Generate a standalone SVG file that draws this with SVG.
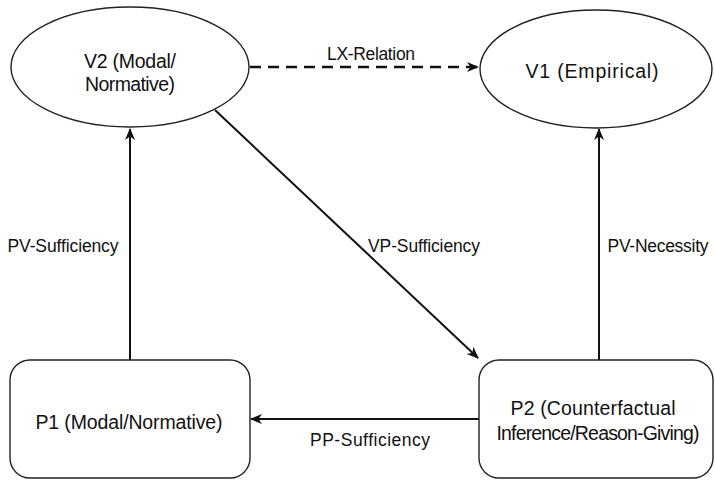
<svg xmlns="http://www.w3.org/2000/svg" width="715" height="482" viewBox="0 0 715 482">
<style>
.node{fill:#fff;stroke:#222;stroke-width:1.4}
.t{font-family:"Liberation Sans",Arial,sans-serif;fill:#111;text-anchor:middle}
.nt{font-size:19.5px}
.lt{font-size:17.5px}
.edge{stroke:#111;stroke-width:2;fill:none}
.dash{stroke-dasharray:11 7;stroke-width:2.5}
</style>
<defs>
<marker id="ah" viewBox="0 0 12 12" refX="11" refY="6" markerWidth="12" markerHeight="12" markerUnits="userSpaceOnUse" orient="auto">
<path d="M0,1 L12,6 L0,11 L3.5,6 z" fill="#111"/>
</marker>
</defs>
<rect width="715" height="482" fill="#fff"/>
<g id="connectors">
<line class="edge dash" x1="250" y1="67" x2="478" y2="67" marker-end="url(#ah)"/>
<line class="edge" x1="130" y1="360" x2="130" y2="129" marker-end="url(#ah)"/>
<line class="edge" x1="599" y1="360" x2="599" y2="129" marker-end="url(#ah)"/>
<line class="edge" x1="215" y1="110" x2="478" y2="358" marker-end="url(#ah)"/>
<line class="edge" x1="479" y1="419" x2="251" y2="419" marker-end="url(#ah)"/>
<text class="t lt" x="371" y="60" textLength="88" lengthAdjust="spacing">LX-Relation</text>
<text class="t lt" x="63" y="252" textLength="111" lengthAdjust="spacing">PV-Sufficiency</text>
<text class="t lt" x="424" y="252" textLength="112" lengthAdjust="spacing">VP-Sufficiency</text>
<text class="t lt" x="658" y="252" textLength="101" lengthAdjust="spacing">PV-Necessity</text>
<text class="t lt" x="370" y="446" textLength="120" lengthAdjust="spacing">PP-Sufficiency</text>
</g>
<g id="V2">
<ellipse class="node" cx="130" cy="67" rx="119" ry="60"/>
<text class="t nt" x="130" y="68" textLength="92" lengthAdjust="spacing">V2 (Modal/</text>
<text class="t nt" x="130" y="91" textLength="90" lengthAdjust="spacing">Normative)</text>
</g>
<g id="V1">
<ellipse class="node" cx="596" cy="69" rx="116" ry="59"/>
<text class="t nt" x="592" y="78" textLength="133" lengthAdjust="spacing">V1 (Empirical)</text>
</g>
<g id="P1">
<rect class="node" x="10" y="360" width="240" height="118" rx="20" ry="20"/>
<text class="t nt" x="129" y="429" textLength="187" lengthAdjust="spacing">P1 (Modal/Normative)</text>
</g>
<g id="P2">
<rect class="node" x="479" y="360" width="234" height="118" rx="20" ry="20"/>
<text class="t nt" x="593" y="415" textLength="165" lengthAdjust="spacing">P2 (Counterfactual</text>
<text class="t nt" x="598" y="440" textLength="203" lengthAdjust="spacing">Inference/Reason-Giving)</text>
</g>
</svg>
